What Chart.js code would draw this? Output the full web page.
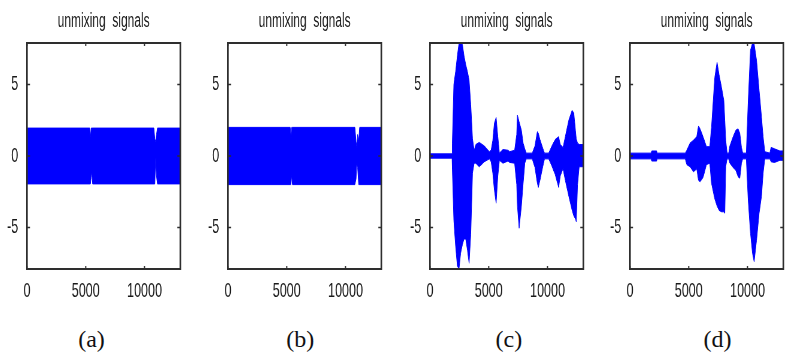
<!DOCTYPE html>
<html>
<head>
<meta charset="utf-8">
<script src="https://cdn.jsdelivr.net/npm/chart.js@4.4.1/dist/chart.umd.min.js"></script>
<style>
  html, body { margin: 0; padding: 0; background: #fff; }
  body { width: 785px; height: 358px; position: relative; overflow: hidden; }
  canvas.panel { position: absolute; top: 0; }
  .cap { position: absolute; top: 327px; width: 60px; margin-left: -30px; text-align: center;
         font: 24px/24px 'Liberation Serif', 'Times New Roman', serif; color: #111; }
</style>
</head>
<body>
<canvas id="pa" class="panel" width="307" height="300" style="left:0.5px;width:184.2px;height:300px"></canvas>
<canvas id="pb" class="panel" width="307" height="300" style="left:202px;width:184.2px;height:300px"></canvas>
<canvas id="pc" class="panel" width="307" height="300" style="left:403.7px;width:184.2px;height:300px"></canvas>
<canvas id="pd" class="panel" width="307" height="300" style="left:604.3px;width:184.2px;height:300px"></canvas>
<div class="cap" style="left:91.5px">(a)</div>
<div class="cap" style="left:300.2px">(b)</div>
<div class="cap" style="left:508.9px">(c)</div>
<div class="cap" style="left:717.6px">(d)</div>
<script>
const titleText = 'unmixing  signals';
const xTicks = [0, 5000, 10000];
const yTicks = [-5, 0, 5];
const xMax = 13050;
const yLim = 7.9;

// envelopes (upper / lower edge) of each unmixed signal
const aX     = [0, 5340, 5400, 5460, 5520, 5580, 10800, 10880, 10950, 11020, 11100, 13050];
const aUpper = [1.95, 1.95, 1.3, 1.95, 1.95, 1.95, 1.95, 1.2, 1.0, 1.5, 1.95, 1.95];
const aLower = [-1.95, -1.95, -1.95, -1.5, -1.1, -1.95, -1.95, -1.95, -0.1, -1.4, -1.95, -1.95];

const bX     = [0, 5300, 5360, 5420, 5480, 10800, 10900, 10960, 11030, 11120, 11200, 13050];
const bUpper = [2.0, 2.0, 1.3, 2.0, 2.0, 2.0, 1.0, 0.6, 1.5, 1.0, 2.0, 2.0];
const bLower = [-2.0, -2.0, -2.0, -1.35, -2.0, -2.0, -1.6, -0.5, -0.8, -2.0, -2.0, -2.0];

const cX = [0, 1880, 1900, 2030, 2180, 2330, 2470, 2610, 2760, 2900,
            3040, 3190, 3330, 3470, 3620, 3760, 3900, 4190, 4620, 5050,
            5200, 5345, 5480, 5630, 5775, 5910, 6210, 6640, 6780, 7200,
            7380, 7440, 7585, 7780, 7930, 8070, 8200, 8700, 8930, 9135,
            9220, 9360, 9600, 9750, 10100, 10370, 10655, 10950, 11085, 11320,
            11515, 11810, 12095, 12240, 12380, 12450, 12560, 12700, 13050];
const cUpper = [0.15, 0.15, 0.9, 5.0, 5.9, 7.0, 7.9, 7.9, 7.8, 7.0,
                6.4, 5.9, 5.3, 3.6, 1.2, 0.4, 0.8, 0.95, 0.7, 0.3,
                0.4, 1.1, 2.3, 2.7, 1.35, 0.2, 0.45, 0.4, 0.3, 0.4,
                1.5, 2.86, 2.4, 1.8, 0.9, 0.5, 0.2, 0.2, 0.7, 1.7,
                1.6, 1.15, 0.55, 0.2, 0.2, 0.7, 1.15, 1.35, 0.8, 0.6,
                1.35, 2.5, 3.2, 3.0, 1.8, 1.2, 0.9, 0.8, 0.8];
const cLower = [-0.15, -0.15, -0.9, -4.5, -6.3, -7.7, -7.9, -6.8, -6.2, -5.8,
                -5.8, -6.6, -7.5, -5.5, -1.2, -0.5, -0.5, -0.75, -0.4, -0.2,
                -0.4, -1.2, -2.4, -3.3, -1.4, -0.3, -0.5, -0.35, -0.45, -0.5,
                -2.0, -3.5, -5.05, -3.5, -1.9, -0.5, -0.2, -0.2, -0.8, -1.9,
                -2.2, -1.7, -0.75, -0.2, -0.2, -0.7, -1.3, -2.2, -1.4, -0.9,
                -1.7, -2.8, -3.8, -4.2, -4.4, -4.6, -2.0, -0.75, -0.75];

const dX = [0, 1800, 1850, 2270, 2320, 4700, 4830, 5110, 5400, 5680,
            5830, 5965, 6220, 6510, 6790, 6935, 7215, 7410, 7580, 7790,
            7985, 8070, 8150, 8265, 8400, 8495, 8775, 9005, 9200, 9345,
            9490, 9600, 9900, 10055, 10255, 10425, 10565, 10770, 10990, 11195,
            11330, 11475, 11900, 12000, 12300, 12755, 13050];
const dUpper = [0.2, 0.2, 0.35, 0.35, 0.2, 0.2, 0.4, 0.9, 1.1, 1.35,
                2.1, 1.9, 1.35, 0.65, 0.65, 2.0, 5.5, 6.55, 5.7, 4.8,
                3.9, 2.5, 1.1, 0.2, 0.2, 0.7, 1.35, 1.8, 1.9, 1.6,
                0.6, 0.2, 0.2, 3.7, 7.4, 7.9, 7.85, 6.7, 4.6, 2.7,
                1.35, 0.3, 0.2, 0.6, 0.5, 0.35, 0.35];
const dLower = [-0.2, -0.2, -0.35, -0.35, -0.2, -0.2, -0.6, -0.75, -1.1, -0.9,
                -1.7, -1.8, -1.5, -0.6, -0.5, -1.9, -3.0, -3.5, -3.8, -3.9,
                -3.9, -4.0, -0.75, -0.2, -0.2, -0.5, -0.8, -1.0, -1.45, -1.55,
                -0.5, -0.2, -0.2, -3.0, -5.4, -6.8, -7.4, -5.9, -4.0, -2.8,
                -1.2, -0.2, -0.2, -0.4, -0.45, -0.3, -0.3];

// canvases are drawn wide and squeezed by css, like the narrow matlab figure
const squeeze = 0.6;
const blue = '#0000ff';
const frameColor = '#2e2e2e';
const textColor = '#1a1a1a';
const sansFont = "'Liberation Sans', Arial, sans-serif";

// box round the axes plus the small inward ticks
const framePlugin = {
    id: 'frame',
    afterDatasetsDraw(chart) {
        const { ctx, chartArea: a, scales } = chart;
        ctx.save();
        ctx.strokeStyle = frameColor;
        ctx.lineWidth = 2;
        ctx.beginPath();
        ctx.moveTo(a.left, a.top); ctx.lineTo(a.right, a.top);
        ctx.moveTo(a.left, a.bottom); ctx.lineTo(a.right, a.bottom);
        ctx.stroke();
        ctx.lineWidth = 1.6 / squeeze;
        ctx.beginPath();
        ctx.moveTo(a.left, a.top - 1); ctx.lineTo(a.left, a.bottom + 1);
        ctx.moveTo(a.right, a.top - 1); ctx.lineTo(a.right, a.bottom + 1);
        ctx.stroke();

        ctx.lineWidth = 1.2 / squeeze;
        ctx.beginPath();
        scales.x.ticks.forEach(t => {
            const px = scales.x.getPixelForValue(t.value);
            ctx.moveTo(px, a.bottom); ctx.lineTo(px, a.bottom - 3);
            ctx.moveTo(px, a.top); ctx.lineTo(px, a.top + 3);
        });
        ctx.stroke();
        ctx.lineWidth = 1.4;
        ctx.beginPath();
        scales.y.ticks.forEach(t => {
            const py = scales.y.getPixelForValue(t.value);
            ctx.moveTo(a.left, py); ctx.lineTo(a.left + 3 / squeeze, py);
            ctx.moveTo(a.right, py); ctx.lineTo(a.right - 3 / squeeze, py);
        });
        ctx.stroke();
        ctx.restore();
    }
};

function makePanel(id, xs, upper, lower) {
    const ctx = document.getElementById(id).getContext('2d');
    const toPoints = ys => xs.map((x, i) => ({ x: x, y: ys[i] }));
    return new Chart(ctx, {
        type: 'line',
        data: {
            datasets: [{
                data: toPoints(upper),
                borderColor: blue,
                backgroundColor: blue,
                borderWidth: 1,
                pointRadius: 0,
                tension: 0,
                fill: '+1'
            }, {
                data: toPoints(lower),
                borderColor: blue,
                backgroundColor: blue,
                borderWidth: 1,
                pointRadius: 0,
                tension: 0,
                fill: false
            }]
        },
        options: {
            responsive: false,
            animation: false,
            devicePixelRatio: 1,
            layout: { padding: { left: 0, right: 7.8, top: 0, bottom: 0 } },
            plugins: {
                legend: { display: false },
                tooltip: { enabled: false },
                title: {
                    display: true,
                    text: titleText,
                    fullSize: false,
                    color: textColor,
                    font: { family: sansFont, size: 20, weight: 'normal' },
                    padding: { top: 9, bottom: 10 }
                }
            },
            scales: {
                x: {
                    type: 'linear',
                    min: 0,
                    max: xMax,
                    grid: { display: false },
                    border: { display: false },
                    afterBuildTicks: s => { s.ticks = xTicks.map(v => ({ value: v })); },
                    afterFit: s => { s.height = 31; },
                    ticks: {
                        color: textColor,
                        padding: 2,
                        maxRotation: 0,
                        autoSkip: false,
                        font: { family: sansFont, size: 21 },
                        callback: v => String(v)
                    }
                },
                y: {
                    type: 'linear',
                    min: -yLim,
                    max: yLim,
                    grid: { display: false },
                    border: { display: false },
                    afterBuildTicks: s => { s.ticks = yTicks.map(v => ({ value: v })); },
                    afterFit: s => { s.width = 26 / squeeze; },
                    ticks: {
                        color: textColor,
                        padding: 4 / squeeze,
                        font: { family: sansFont, size: 21 },
                        callback: v => String(v)
                    }
                }
            }
        },
        plugins: [framePlugin]
    });
}

makePanel('pa', aX, aUpper, aLower);
makePanel('pb', bX, bUpper, bLower);
makePanel('pc', cX, cUpper, cLower);
makePanel('pd', dX, dUpper, dLower);
</script>
</body>
</html>
